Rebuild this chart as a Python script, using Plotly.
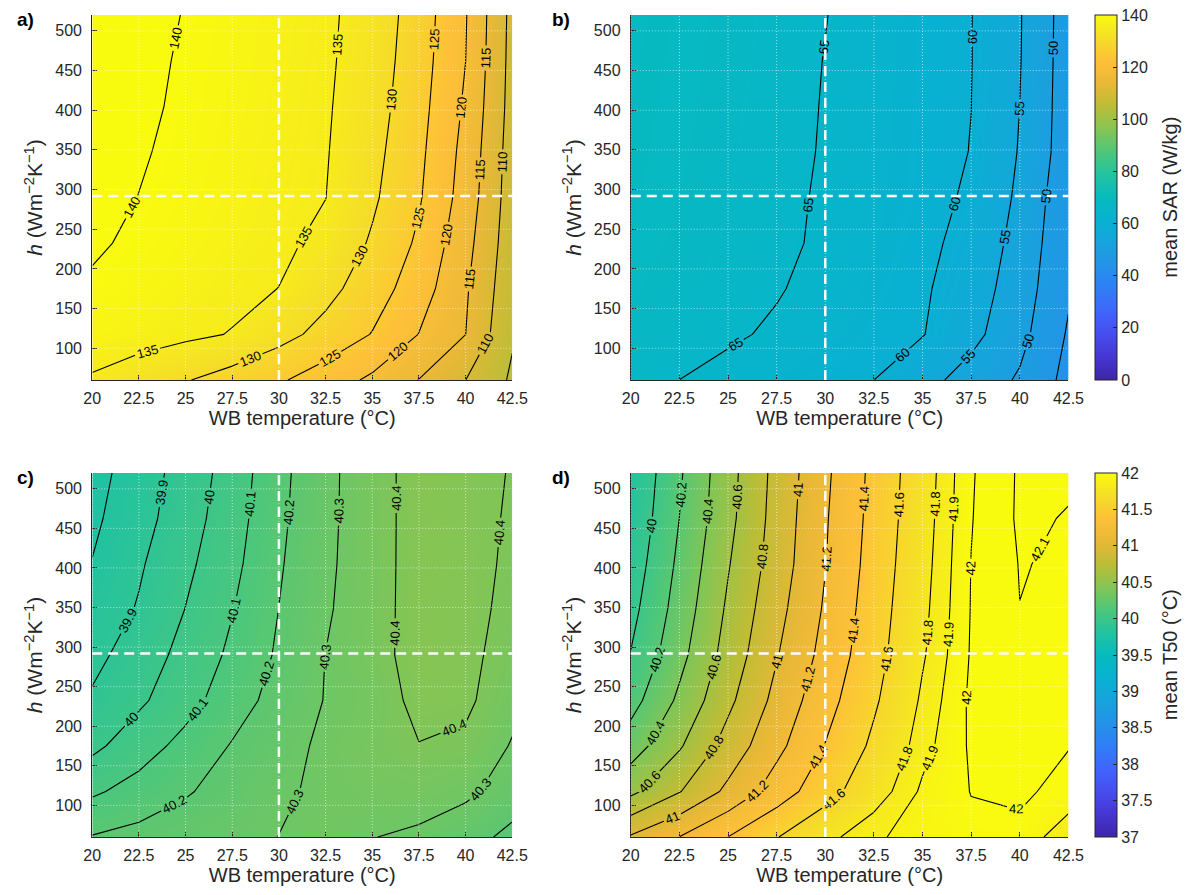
import plotly.graph_objects as go

# ---------------- data ----------------
WB_TEMP = [20, 22.5, 25, 27.5, 30, 32.5, 35, 37.5, 40, 42.5]          # x grid (°C)
H_COEF = [60, 117.5, 175, 232.5, 290, 347.5, 405, 462.5, 520]          # y grid (W m-2 K-1)
X_TICKS = [20, 22.5, 25, 27.5, 30, 32.5, 35, 37.5, 40, 42.5]
Y_TICKS = [100, 150, 200, 250, 300, 350, 400, 450, 500]
REF_WB = 30
REF_H = 292

# panel a) mean SAR (W/kg), rows follow H_COEF, columns follow WB_TEMP
SAR_A = [
    [134.4, 132.3, 130.3, 127.9, 125.6, 122.5, 119.1, 114.9, 110.02, 104.3],
    [138.0, 137.0, 135.9, 134.8, 131.7, 128.4, 124.8, 119.9, 115.02, 105.5],
    [139.5, 138.4, 137.25, 136.1, 134.95, 131.5, 127.4, 122.4, 115.6, 106.5],
    [140.5, 139.35, 138.2, 137.0, 135.9, 133.9, 129.4, 124.2, 116.7, 107.1],
    [141.2, 139.95, 138.7, 137.5, 136.3, 135.05, 130.8, 125.5, 117.9, 107.5],
    [141.6, 140.35, 139.1, 137.8, 136.6, 135.3, 131.5, 126.1, 118.5, 107.8],
    [142.0, 140.7, 139.4, 138.1, 136.8, 135.5, 132.2, 126.7, 119.3, 108.2],
    [142.2, 140.9, 139.6, 138.3, 137.0, 135.7, 132.7, 127.2, 120.02, 108.4],
    [142.5, 141.2, 139.85, 138.5, 137.2, 135.8, 133.1, 127.6, 120.3, 108.6],
]
# panel b) mean SAR (W/kg)
SAR_B = [
    [66.2, 64.99, 63.7, 62.5, 61.25, 60.01, 56.6, 53.1, 49.4, 43.5],
    [67.5, 66.6, 65.6, 64.4, 63.0, 61.6, 60.2, 56.4, 51.5, 44.5],
    [68.0, 67.2, 66.5, 65.3, 63.75, 62.2, 60.6, 57.5, 52.5, 45.6],
    [68.3, 67.6, 66.8, 65.9, 64.3, 62.7, 61.1, 58.5, 53.3, 46.1],
    [68.5, 67.8, 67.0, 66.0, 64.5, 63.0, 61.4, 59.4, 54.1, 46.5],
    [68.6, 68.0, 67.2, 66.2, 64.7, 63.1, 61.5, 59.9, 54.7, 47.4],
    [68.7, 68.1, 67.3, 66.3, 64.8, 63.2, 61.6, 60.02, 54.99, 47.5],
    [68.8, 68.2, 67.4, 66.5, 64.9, 63.3, 61.7, 60.1, 55.2, 47.6],
    [68.9, 68.3, 67.5, 66.6, 65.1, 63.4, 61.7, 60.1, 55.3, 47.7],
]
# panel c) mean T50 (°C)
T50_C = [
    [40.205, 40.23, 40.25, 40.275, 40.301, 40.32, 40.302, 40.285, 40.245, 40.17],
    [40.085, 40.137, 40.191, 40.238, 40.284, 40.32, 40.335, 40.34, 40.318, 40.26],
    [39.977, 40.055, 40.131, 40.207, 40.262, 40.32, 40.36, 40.397, 40.38, 40.292],
    [39.913, 39.983, 40.063, 40.154, 40.237, 40.304, 40.341, 40.43, 40.42, 40.33],
    [39.872, 39.947, 40.031, 40.119, 40.214, 40.301, 40.363, 40.44, 40.425, 40.36],
    [39.838, 39.908, 40.002, 40.096, 40.201, 40.288, 40.361, 40.44, 40.43, 40.375],
    [39.803, 39.888, 39.978, 40.073, 40.19, 40.281, 40.359, 40.44, 40.43, 40.385],
    [39.781, 39.863, 39.955, 40.056, 40.18, 40.277, 40.358, 40.44, 40.43, 40.39],
    [39.763, 39.85, 39.941, 40.043, 40.173, 40.275, 40.358, 40.44, 40.43, 40.395],
]
# panel d) mean T50 (°C)
T50_D = [
    [41.02, 41.202, 41.401, 41.592, 41.76, 41.885, 41.94, 41.976, 41.986, 41.813],
    [40.554, 40.79, 41.044, 41.295, 41.525, 41.729, 41.92, 42.003, 42.01, 41.982],
    [40.30, 40.578, 40.878, 41.147, 41.406, 41.638, 41.862, 42.015, 42.03, 42.002],
    [40.125, 40.4375, 40.755, 41.057, 41.328, 41.573, 41.823, 42.02, 42.06, 42.04],
    [40.007, 40.34, 40.676, 40.988, 41.263, 41.528, 41.785, 42.01, 42.08, 42.06],
    [39.94, 40.283, 40.63, 40.9375, 41.223, 41.503, 41.766, 42.005, 42.099, 42.07],
    [39.886, 40.24, 40.586, 40.894, 41.194, 41.48, 41.75, 42.002, 42.104, 42.088],
    [39.84, 40.201, 40.544, 40.875, 41.182, 41.462, 41.736, 41.995, 42.115, 42.095],
    [39.81, 40.175, 40.53, 40.86, 41.164, 41.451, 41.725, 41.99, 42.113, 42.113],
]
# contour levels drawn in each panel (evenly spaced groups)
LEVELS_A = [105, 110, 115, 120, 125, 130, 135, 140]
LEVELS_B = [45, 50, 55, 60, 65]
LEVELS_C = [39.8, 39.9, 40.0, 40.1, 40.2, 40.3, 40.4]
LEVELS_D_COARSE = [40.0, 40.2, 40.4, 40.6, 40.8, 41.0, 41.2, 41.4, 41.6, 41.8]
LEVELS_D_FINE = [41.9, 42.0, 42.1]
SAR_CBAR_TICKS = [0, 20, 40, 60, 80, 100, 120, 140]
T50_CBAR_TICKS = [37, 37.5, 38, 38.5, 39, 39.5, 40, 40.5, 41, 41.5, 42]

# ---------------- style ----------------
PARULA = [
    [0.0, "rgb(62,38,168)"], [0.0625, "rgb(70,53,210)"], [0.125, "rgb(71,77,238)"],
    [0.1875, "rgb(64,101,252)"], [0.25, "rgb(48,126,246)"], [0.3125, "rgb(36,146,232)"],
    [0.375, "rgb(24,163,221)"], [0.4375, "rgb(8,177,209)"], [0.5, "rgb(6,187,190)"],
    [0.5625, "rgb(35,195,159)"], [0.625, "rgb(78,199,122)"], [0.6875, "rgb(134,197,84)"],
    [0.75, "rgb(189,189,54)"], [0.8125, "rgb(232,184,55)"], [0.875, "rgb(254,192,56)"],
    [0.9375, "rgb(245,222,40)"], [1.0, "rgb(249,251,14)"],
]
FONT = "Liberation Sans, Arial, Helvetica, sans-serif"
INK = "#262626"
W, HGT = 1199, 895
GRID = dict(color="rgba(255,255,255,0.6)", width=1, dash="1px,2px")
REFLINE = dict(color="white", width=2.5, dash="10px,6px")
# extra empty levels (beyond the data range) only make plotly place more labels per line
PAD_LEVELS = 60

panels = [
    dict(label="a)", z=SAR_A, ca="coloraxis", groups=[(LEVELS_A, "up")], box=(85, 514, 15, 380)),
    dict(label="b)", z=SAR_B, ca="coloraxis", groups=[(LEVELS_B, "up")], box=(635, 1082, 15, 380)),
    dict(label="c)", z=T50_C, ca="coloraxis2", groups=[(LEVELS_C, "up")], box=(85, 514, 473, 837)),
    dict(label="d)", z=T50_D, ca="coloraxis2",
         groups=[(LEVELS_D_COARSE, "down"), (LEVELS_D_FINE, "up")], box=(635, 1082, 473, 837)),
]

fig = go.Figure()
layout = dict(width=W, height=HGT, margin=dict(l=0, r=0, t=0, b=0), autosize=False,
              paper_bgcolor="white", plot_bgcolor="white",
              font=dict(family=FONT, color=INK), showlegend=False)
shapes, annotations = [], []

for i, p in enumerate(panels):
    n = "" if i == 0 else str(i + 1)
    xr, yr = "x" + n, "y" + n
    x0, x1, y0, y1 = p["box"]
    fig.add_trace(go.Heatmap(x=WB_TEMP, y=H_COEF, z=p["z"], coloraxis=p["ca"], zsmooth="best",
                             xaxis=xr, yaxis=yr, hoverinfo="skip"))
    for levels, pad in p["groups"]:
        step = round(levels[1] - levels[0], 6)
        if pad == "up":
            start, end = levels[0], levels[-1] + PAD_LEVELS * step
        else:
            start, end = levels[0] - PAD_LEVELS * step, levels[-1]
        fig.add_trace(go.Contour(
            x=WB_TEMP, y=H_COEF, z=p["z"], xaxis=xr, yaxis=yr, autocontour=False,
            contours=dict(start=start, end=end + step / 4, size=step, coloring="none",
                          showlabels=True, labelformat=".4~g",
                          labelfont=dict(family=FONT, size=13, color="black")),
            line=dict(color="black", width=1.1, smoothing=0), showscale=False, hoverinfo="skip"))
    layout["xaxis" + n] = dict(
        domain=[x0 / W, x1 / W], anchor=yr, range=[20, 42.5], tickvals=X_TICKS,
        ticks="inside", ticklen=5, tickcolor=INK, showline=True, linecolor=INK, linewidth=1,
        showgrid=False, zeroline=False, layer="above traces", ticklabelstandoff=4,
        tickfont=dict(family=FONT, size=16, color=INK),
        title=dict(text="WB temperature (°C)", font=dict(family=FONT, size=20, color=INK), standoff=4))
    layout["yaxis" + n] = dict(
        domain=[1 - y1 / HGT, 1 - y0 / HGT], anchor=xr, range=[60, 520], tickvals=Y_TICKS,
        ticks="inside", ticklen=5, tickcolor=INK, showline=True, linecolor=INK, linewidth=1,
        showgrid=False, zeroline=False, layer="above traces", ticklabelstandoff=6,
        tickfont=dict(family=FONT, size=16, color=INK),
        title=dict(text="<i>h</i> (Wm<sup>−2</sup>K<sup>−1</sup>)",
                   font=dict(family=FONT, size=21, color=INK), standoff=6))
    # dotted grid on top of the image
    for xv in X_TICKS:
        shapes.append(dict(type="line", xref=xr, yref=yr + " domain", x0=xv, x1=xv, y0=0, y1=1,
                           layer="above", line=GRID))
    for yv in Y_TICKS:
        shapes.append(dict(type="line", xref=xr + " domain", yref=yr, x0=0, x1=1, y0=yv, y1=yv,
                           layer="above", line=GRID))
    # dashed reference lines
    shapes.append(dict(type="line", xref=xr, yref=yr + " domain", x0=REF_WB, x1=REF_WB, y0=0, y1=1,
                       layer="above", line=REFLINE))
    shapes.append(dict(type="line", xref=xr + " domain", yref=yr, x0=0, x1=1, y0=REF_H, y1=REF_H,
                       layer="above", line=REFLINE))
    annotations.append(dict(text="<b>" + p["label"] + "</b>", xref="paper", yref="paper",
                            x=(6 if x0 < 300 else 553) / W, y=1 - (y0 - 8) / HGT,
                            xanchor="left", yanchor="top", showarrow=False,
                            font=dict(family=FONT, size=19, color="black")))


def cbar(ticks, top, bottom):
    return dict(x=1109 / W, xanchor="left", xpad=0, y=1 - top / HGT, yanchor="top", ypad=0,
                len=bottom - top, lenmode="pixels", thickness=22, thicknessmode="pixels",
                outlinewidth=1, outlinecolor=INK, ticks="inside", ticklen=4, tickcolor=INK,
                tickvals=ticks, tickfont=dict(family=FONT, size=16, color=INK))


layout["coloraxis"] = dict(cmin=0, cmax=140, colorscale=PARULA, colorbar=cbar(SAR_CBAR_TICKS, 15, 380))
layout["coloraxis2"] = dict(cmin=37, cmax=42, colorscale=PARULA, colorbar=cbar(T50_CBAR_TICKS, 473, 837))
for title, top, bottom in [("mean SAR (W/kg)", 15, 380), ("mean T50 (°C)", 473, 837)]:
    annotations.append(dict(text=title, xref="paper", yref="paper", x=1186 / W,
                            y=1 - (top + bottom) / 2 / HGT, xanchor="center", yanchor="middle",
                            textangle=-90, showarrow=False,
                            font=dict(family=FONT, size=20, color=INK)))
layout["shapes"] = shapes
layout["annotations"] = annotations
fig.update_layout(**layout)
fig.write_html("out.html")
